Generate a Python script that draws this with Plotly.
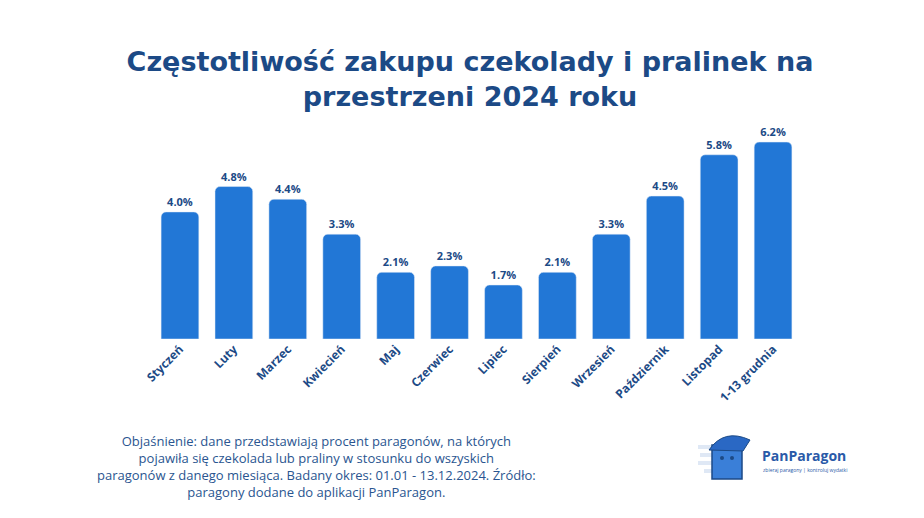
import plotly.graph_objects as go

months = ["Styczeń", "Luty", "Marzec", "Kwiecień", "Maj", "Czerwiec", "Lipiec",
          "Sierpień", "Wrzesień", "Październik", "Listopad", "1-13 grudnia"]
share = [4.0, 4.8, 4.4, 3.3, 2.1, 2.3, 1.7, 2.1, 3.3, 4.5, 5.8, 6.2]
labels = [f"{v:.1f}%" for v in share]

navy = "#1c4a86"
blue = "#2277d6"
font = "Open Sans"

L, R, T, B = 145, 132, 122, 187
W, H = 924, 518
OFF = 8  # page body margin


def px(x):
    return (x - OFF - L) / (W - L - R)


def py(y):
    return (H - B - (y - OFF)) / (H - T - B)


fig = go.Figure(go.Bar(
    x=months, y=share, text=labels, textposition="outside",
    textfont=dict(family=font, size=11, color=navy, weight="bold"),
    marker=dict(color=blue, cornerradius=5), cliponaxis=False,
))

fig.update_layout(
    width=W, height=H,
    paper_bgcolor="white", plot_bgcolor="white",
    margin=dict(l=L, r=R, t=T, b=B),
    bargap=0.3, showlegend=False,
    title=dict(text="Częstotliwość zakupu czekolady i pralinek na<br>przestrzeni 2024 roku",
               x=0.5, xanchor="center", y=0.878, yanchor="top",
               font=dict(family="DejaVu Sans", size=27, color=navy, weight="bold")),
)
fig.update_xaxes(tickangle=-45, showline=False, ticks="", automargin=False,
                 tickfont=dict(family=font, size=12, color=navy, weight="bold"))
fig.update_yaxes(range=[0, 6.58], visible=False, automargin=False)

fig.add_annotation(
    xref="paper", yref="paper", x=px(316), y=py(466), xanchor="center", yanchor="middle",
    text="Objaśnienie: dane przedstawiają procent paragonów, na których<br>"
         "pojawiła się czekolada lub praliny w stosunku do wszyskich<br>"
         "paragonów z danego miesiąca. Badany okres: 01.01 - 13.12.2024. Źródło:<br>"
         "paragony dodane do aplikacji PanParagon.",
    showarrow=False, align="center",
    font=dict(family=font, size=13, color="#2a5590"),
)

# logo
for yy, x0, x1 in [(447, 698, 720), (455, 700, 722), (463, 698, 718), (471, 704, 722)]:
    fig.add_shape(type="line", xref="paper", yref="paper",
                  x0=px(x0), x1=px(x1), y0=py(yy), y1=py(yy),
                  line=dict(color="#dfe8f5", width=4))
fig.add_shape(type="rect", xref="paper", yref="paper",
              x0=px(712), x1=px(742), y0=py(479), y1=py(445),
              fillcolor="#3a7fd8", line=dict(color="#1c4a86", width=1.5))
fig.add_shape(type="path", xref="paper", yref="paper",
              path=f"M {px(709)} {py(450)} Q {px(724)} {py(428)} {px(750)} {py(440)} "
                   f"L {px(743)} {py(451)} Z",
              fillcolor="#2a68c4", line=dict(color="#1c4a86", width=1))
for ex in (722, 732):
    fig.add_shape(type="circle", xref="paper", yref="paper",
                  x0=px(ex - 2), x1=px(ex + 2), y0=py(460), y1=py(456),
                  fillcolor="#1c4a86", line=dict(width=0))
fig.add_annotation(xref="paper", yref="paper", x=px(760), y=py(455),
                   xanchor="left", yanchor="middle", showarrow=False, text="PanParagon",
                   font=dict(family=font, size=14, color="#2a5aa8", weight="bold"))
fig.add_annotation(xref="paper", yref="paper", x=px(761), y=py(470),
                   xanchor="left", yanchor="middle", showarrow=False,
                   text="zbieraj paragony | kontroluj wydatki",
                   font=dict(family=font, size=5, color="#2a5aa8"))

fig.write_html("out.html")
